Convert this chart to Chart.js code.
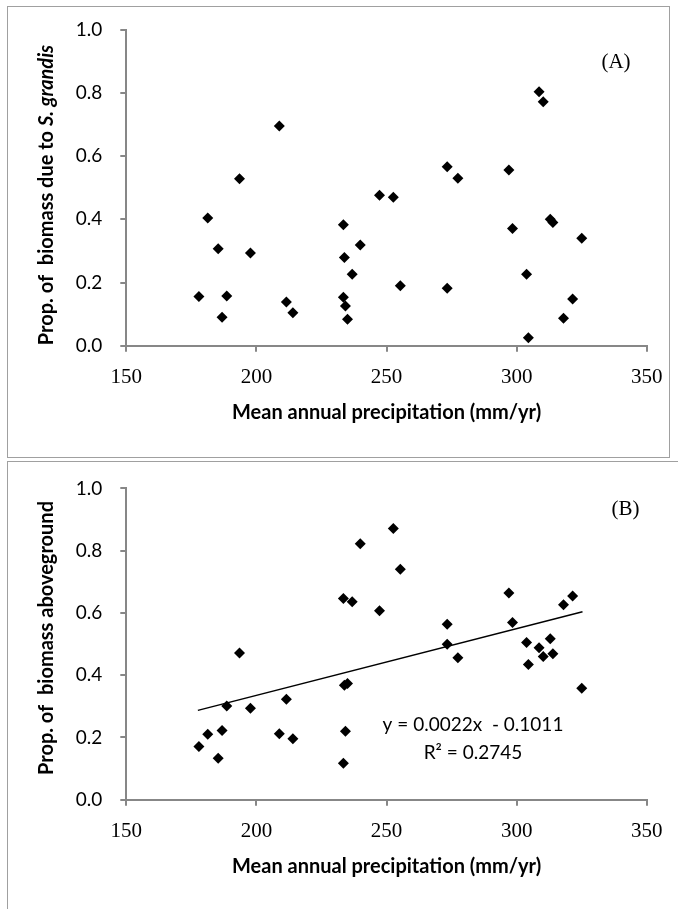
<!DOCTYPE html>
<html lang="en">
<head>
  <meta charset="UTF-8" />
  <title>Biomass vs precipitation</title>
  <style>
    body {
      margin: 0;
      background: #fff;
      width: 678px;
      height: 909px;
      overflow: hidden;
      position: relative;
    }
    .frame {
      position: absolute;
      border: 1px solid #a0a0a0;
    }
    #frameA { left: 7px; top: 6px; width: 661px; height: 450px; }
    #frameB { left: 7px; top: 461px; width: 720px; height: 520px; }
    canvas { position: absolute; left: 0; }
    #chartA { top: 0; }
    #chartB { top: 459px; }
  </style>
</head>
<body>
  <div class="frame" id="frameA"></div>
  <div class="frame" id="frameB"></div>
  <canvas id="chartA" width="678" height="459"></canvas>
  <canvas id="chartB" width="678" height="450"></canvas>

  <script src="https://cdn.jsdelivr.net/npm/chart.js"></script>
  <script>
    // mean annual precipitation of each site (mm/yr), shared by both panels
    const precip = [177.9, 181.3, 185.3, 186.8, 188.6, 193.5, 197.7, 208.8, 211.5, 214.0,
                    233.4, 233.8, 233.4, 234.2, 235.0, 236.8, 239.9, 247.3, 252.6, 255.3,
                    273.3, 277.4, 273.3, 297.0, 298.4, 303.8, 304.5, 308.6, 310.2, 312.9,
                    313.9, 325.0, 321.5, 318.0];
    // (A) proportion of biomass due to S. grandis
    const propGrandis = [0.156, 0.404, 0.307, 0.090, 0.157, 0.528, 0.293, 0.695, 0.138, 0.104,
                         0.383, 0.279, 0.153, 0.126, 0.084, 0.226, 0.319, 0.476, 0.470, 0.190,
                         0.566, 0.530, 0.182, 0.556, 0.371, 0.226, 0.025, 0.804, 0.772, 0.400,
                         0.390, 0.340, 0.148, 0.087];
    // (B) proportion of biomass aboveground (same sites, other order of y)
    const propAbove = [0.171, 0.210, 0.133, 0.222, 0.301, 0.471, 0.294, 0.212, 0.323, 0.196,
                       0.646, 0.368, 0.117, 0.220, 0.373, 0.636, 0.822, 0.607, 0.871, 0.740,
                       0.499, 0.456, 0.564, 0.664, 0.569, 0.505, 0.434, 0.488, 0.460, 0.517,
                       0.469, 0.358, 0.654, 0.626];
    // linear trend line of panel B, ends as drawn
    const trendX = [177.5, 325.3];
    const trendY = [0.287, 0.604];

    const xTicks = [150, 200, 250, 300, 350];
    const yTicks = [0.0, 0.2, 0.4, 0.6, 0.8, 1.0];

    const axisGrey = '#878787';
    const calibri = 'Lato, "Open Sans", sans-serif';
    const serif = '"Liberation Serif", "DejaVu Serif", serif';

    // draws rotated y title (with italic pieces) and free text notes
    const textPlugin = {
      id: 'notes',
      afterDraw(chart, args, opts) {
        const ctx = chart.ctx;
        ctx.save();
        ctx.fillStyle = '#000';
        if (opts.ytitle) {
          const t = opts.ytitle;
          const fontOf = p => (p.italic ? 'italic ' : '') + 'bold ' + t.size + 'px ' + calibri;
          let total = 0;
          t.parts.forEach(p => { ctx.font = fontOf(p); total += ctx.measureText(p.text).width; });
          ctx.translate(t.x, t.y);
          ctx.rotate(-Math.PI / 2);
          ctx.textBaseline = 'middle';
          ctx.textAlign = 'left';
          let pos = -total / 2;
          t.parts.forEach(p => {
            ctx.font = fontOf(p);
            ctx.fillText(p.text, pos, 0);
            pos += ctx.measureText(p.text).width;
          });
          ctx.setTransform(1, 0, 0, 1, 0, 0);
        }
        (opts.items || []).forEach(it => {
          ctx.font = it.font;
          ctx.textAlign = 'center';
          ctx.textBaseline = 'middle';
          ctx.fillText(it.text, it.x, it.y);
        });
        ctx.restore();
      }
    };

    function makeChart(id, datasets, box, titleGap, notes) {
      const canvas = document.getElementById(id);
      const W = canvas.width, H = canvas.height;
      return new Chart(canvas, {
        type: 'scatter',
        data: { datasets },
        plugins: [textPlugin],
        options: {
          responsive: false,
          animation: false,
          layout: { padding: { left: 0, right: W - box.right, top: box.top, bottom: 0 } },
          plugins: { legend: { display: false }, tooltip: { enabled: false }, notes },
          scales: {
            x: {
              type: 'linear',
              min: xTicks[0],
              max: xTicks[xTicks.length - 1],
              afterBuildTicks: s => { s.ticks = xTicks.map(v => ({ value: v })); },
              afterFit: s => { s.height = H - box.bottom; },
              ticks: { font: { family: serif, size: 21 }, color: '#000', padding: 13, maxRotation: 0 },
              grid: { drawOnChartArea: false, color: axisGrey, lineWidth: 2, tickLength: 6 },
              border: { color: axisGrey, width: 2 },
              title: {
                display: true,
                text: 'Mean annual precipitation (mm/yr)',
                color: '#000',
                font: { family: calibri, size: 20, weight: 'bold' },
                padding: { top: 0, bottom: titleGap }
              }
            },
            y: {
              min: yTicks[0],
              max: yTicks[yTicks.length - 1],
              afterBuildTicks: s => { s.ticks = yTicks.map(v => ({ value: v })); },
              afterFit: s => { s.width = box.left; },
              ticks: {
                font: { family: calibri, size: 19 },
                color: '#000',
                padding: 18,
                callback: v => v.toFixed(1)
              },
              grid: { drawOnChartArea: false, color: axisGrey, lineWidth: 2, tickLength: 6 },
              border: { color: axisGrey, width: 2 }
            }
          }
        }
      });
    }

    const diamonds = ys => ({
      type: 'scatter',
      data: precip.map((x, i) => ({ x, y: ys[i] })),
      pointStyle: 'rectRot',
      pointRadius: 5.5,
      pointBackgroundColor: '#000',
      pointBorderWidth: 0,
      order: 1
    });

    makeChart('chartA', [diamonds(propGrandis)],
      { left: 126.3, right: 646.8, top: 29.7, bottom: 345.7 }, 34,
      {
        ytitle: {
          x: 46.7, y: 195, size: 20,
          parts: [{ text: 'Prop. of  biomass due to ' }, { text: 'S. grandis', italic: true }]
        },
        items: [{ text: '(A)', x: 616, y: 62, font: '21px ' + serif }]
      });

    makeChart('chartB', [
      diamonds(propAbove),
      {
        type: 'line',
        data: trendX.map((x, i) => ({ x, y: trendY[i] })),
        borderColor: '#000',
        borderWidth: 1.5,
        pointRadius: 0,
        fill: false,
        order: 0
      }
    ],
      { left: 126.3, right: 646.8, top: 25.3, bottom: 340.7 }, 30,
      {
        ytitle: {
          x: 46.7, y: 179, size: 20,
          parts: [{ text: 'Prop. of  biomass aboveground' }]
        },
        items: [
          { text: '(B)', x: 625.5, y: 50, font: '21px ' + serif },
          { text: 'y = 0.0022x  - 0.1011', x: 473, y: 266, font: '19px ' + calibri },
          { text: 'R\u00B2 = 0.2745', x: 473, y: 294, font: '19px ' + calibri }
        ]
      });
  </script>
</body>
</html>
